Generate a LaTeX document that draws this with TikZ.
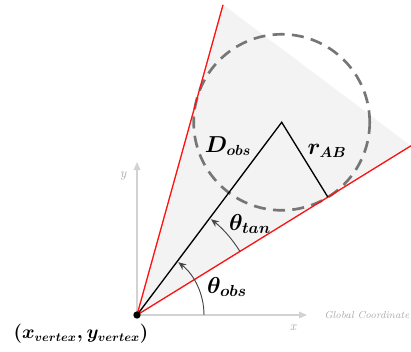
\documentclass[tikz,border=0pt]{standalone}
\usepackage{amsmath,amssymb}
\usepackage{tikz}
\usetikzlibrary{positioning,calc}
\usetikzlibrary{arrows.meta}
\definecolor{SideRed}{RGB}{250,20,20}
\definecolor{ConeGray}{RGB}{243,243,243}
\definecolor{CircGray}{RGB}{118,118,118}
\definecolor{AxisGray}{RGB}{210,210,210}
\definecolor{TextGray}{RGB}{170,170,170}
\definecolor{ArcGray}{RGB}{70,70,70}
\tikzset{
	dot/.style={circle,fill=black,inner sep=0pt,minimum size=5.5pt},
	side/.style={draw=SideRed,line width=1pt},
	ray/.style={draw=black,line width=1pt},
	axis/.style={draw=AxisGray,line width=1pt,-{Triangle[length=6pt,width=5pt]}},
	angarc/.style={draw=ArcGray,line width=0.7pt,-{Stealth[length=6pt,width=5pt]}},
	obs/.style={draw=CircGray,line width=2pt,dash pattern=on 9pt off 5.5pt},
	lbl/.style={font=\fontsize{16}{18}\selectfont\boldmath},
	axlbl/.style={text=TextGray,font=\itshape\normalsize},
}
\begin{document}
\begin{tikzpicture}[x=0.75pt,y=0.75pt]
	\useasboundingbox (0,0) rectangle (411,351);
	\coordinate (vtx) at (137,36);
	\coordinate (top) at ($(vtx)+(74.5:322)$);
	\coordinate (rgt) at ($(vtx)+(31.7:322)$);
	\coordinate (ctr) at ($(vtx)+(53.1:241)$);
	\coordinate (tan) at ($(vtx)!(ctr)!(rgt)$);
	\coordinate (xtip) at (307,36);
	\coordinate (ytip) at (137,189);
	\coordinate (a1) at ($(vtx)+(0:67)$);
	\coordinate (a2) at ($(vtx)+(31.7:121)$);
	\fill[ConeGray] (vtx) -- (top) -- (rgt) -- cycle;
	\draw[axis] (vtx) -- (xtip);
	\draw[axis] (vtx) -- (ytip);
	\node[axlbl] (xl) at (293,23) {x};
	\node[axlbl] (yl) at (123,175) {y};
	\node[axlbl,font=\itshape\fontsize{7.6}{9}\selectfont,anchor=west,inner sep=0pt] (glb) at (324,36) {Global Coordinate};
	\draw[obs] (ctr) circle[radius=66pt];
	\draw[side] (vtx) -- (top);
	\draw[side] (vtx) -- (rgt);
	\draw[ray] (vtx) -- (ctr) -- (tan);
	\draw[angarc] (a1) arc[start angle=0,end angle=52,radius=50.25pt];
	\draw[angarc] (a2) arc[start angle=31.7,end angle=52.3,radius=90.75pt];
	\node[dot] (v) at (vtx) {};
	\node[lbl] (dobs) at (228,205) {$D_{obs}$};
	\node[lbl] (rab) at (327,200) {$r_{AB}$};
	\node[lbl,font=\fontsize{18}{20}\selectfont\boldmath] (ttan) at (250,127) {$\theta_{tan}$};
	\node[lbl,font=\fontsize{18}{20}\selectfont\boldmath] (tobs) at (227,64) {$\theta_{obs}$};
	\node[lbl,font=\fontsize{13.5}{16}\selectfont\boldmath] (vl) at (81,17) {$(x_{vertex},y_{vertex})$};
\end{tikzpicture}
\end{document}
